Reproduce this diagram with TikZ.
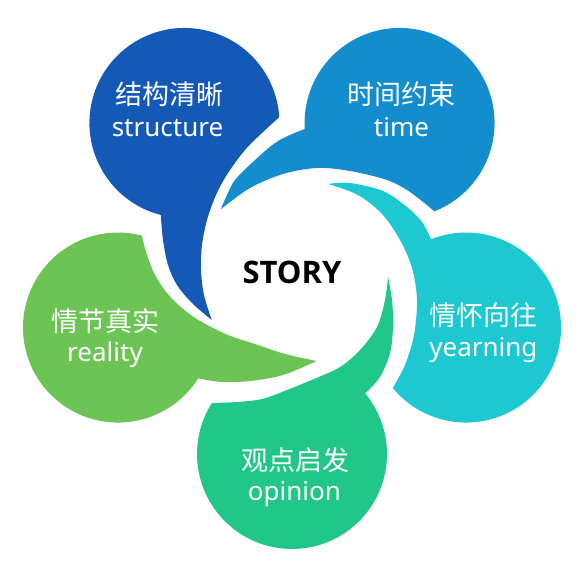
\documentclass[tikz,border=0pt]{standalone}
\usepackage{fontspec}
\setmainfont{Noto Sans}
\newfontfamily\cjk{Noto Sans CJK SC}
\newfontfamily\storyfont{Open Sans}
\definecolor{cstruct}{HTML}{1559B6}
\definecolor{ctime}{HTML}{148DCE}
\definecolor{cyearn}{HTML}{1EC8D0}
\definecolor{copin}{HTML}{21C789}
\definecolor{creal}{HTML}{6CC454}
\begin{document}
\begin{tikzpicture}[x=1pt,y=-1pt,
  cn/.style={font=\cjk\fontsize{27}{27}\selectfont, text=white, anchor=base, inner sep=0pt},
  en/.style={font=\fontsize{26}{26}\selectfont, text=white, anchor=base, inner sep=0pt},
  blobsmooth/.style={smooth, tension=0.55}]
\useasboundingbox (0,0) rectangle (583,569);
% structure (blue)
\fill[cstruct] plot[blobsmooth] coordinates {(211.7,320) (192,303) (177,285) (168,265) (163,240) (160.80,214.97)}
  arc[start angle=104.4, end angle=356.5, radius=95]
  -- plot[blobsmooth] coordinates {(279.25,117.15) (262,133) (245,150) (228,173) (216,195) (207,220) (202,245) (201,270) (204,295) (211.7,320)} -- cycle;
% time
\fill[ctime] plot[blobsmooth] coordinates {(220.7,209.3) (227,195) (235,180) (255,160) (278,141) (304.76,128.92)}
  arc[start angle=176.4, end angle=428.5, radius=95]
  -- plot[blobsmooth] coordinates {(434.39,211.34) (410,192) (387,180) (350,171) (317,168) (283,174) (250,188) (220.7,209.3)} -- cycle;
% yearning (cyan)
\fill[cyearn] plot[blobsmooth] coordinates {(328.3,184) (350,183) (383,191) (407,207) (422,222) (431.07,239.22)}
  arc[start angle=-111.6, end angle=140.5, radius=95]
  -- plot[blobsmooth] coordinates {(392.74,387.98) (405,365) (414,335) (417,300) (412,268) (400,240) (382,214) (358,195) (328.3,184)} -- cycle;
% opinion (green)
\fill[copin] plot[blobsmooth] coordinates {(388,277) (392,300) (393,327) (390,353) (380,377) (365.20,393.45)}
  arc[start angle=-39.6, end angle=212.5, radius=95]
  -- plot[blobsmooth] coordinates {(211.88,402.96) (237,402) (262,399) (287,390) (314,379) (340,367) (360,350) (377,327) (385,300) (388,277)} -- cycle;
% reality (light green)
\fill[creal] plot[blobsmooth] coordinates {(316.7,361) (283,375) (250,381) (222,382) (198.17,378.45)}
  arc[start angle=32.4, end angle=284.5, radius=95]
  -- plot[blobsmooth] coordinates {(141.75,235.58) (147,255) (155,275) (167,293) (182,308) (200,321) (228,335) (255,344) (285,354) (316.7,361)} -- cycle;
% texts
\node[font=\storyfont\bfseries\fontsize{31}{31}\selectfont, anchor=base, inner sep=0pt] (story) at (292,283.5) {STORY};
\node[cn] (cn1) at (169.6,104.8) {结构清晰};
\node[en] (en1) at (167.5,137) {structure};
\node[cn] (cn2) at (401,105) {时间约束};
\node[en] (en2) at (401.5,136.7) {time};
\node[cn] (cn3) at (105,331) {情节真实};
\node[en] (en3) at (105,361.7) {reality};
\node[cn] (cn4) at (483,325) {情怀向往};
\node[en] (en4) at (483.4,356.7) {yearning};
\node[cn] (cn5) at (295,470.5) {观点启发};
\node[en] (en5) at (294.4,500) {opinion};
\end{tikzpicture}
\end{document}
